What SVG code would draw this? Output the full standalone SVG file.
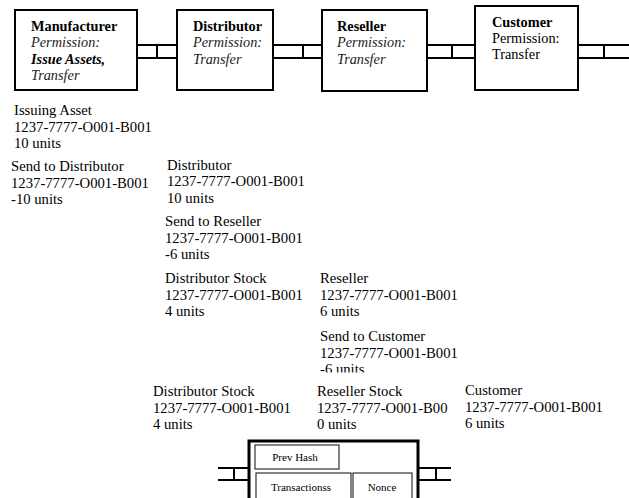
<svg xmlns="http://www.w3.org/2000/svg" width="629" height="498" viewBox="0 0 629 498" font-family="Liberation Serif, serif">
<style>
.box{fill:#fff;stroke:#000;stroke-width:2}
.blk{fill:#fff;stroke:#000;stroke-width:3}
.inner{fill:#fff;stroke:#333;stroke-width:1.2}
.link{stroke:#000;stroke-width:2;fill:none}
.bt{font-size:14.3px;fill:#000}
.b{font-weight:bold}
.i{font-style:italic;fill:#222}
.lt{font-size:14.7px;fill:#000}
.st{font-size:11px;fill:#000}
</style>
<defs>
<clipPath id="clipSend"><rect x="300" y="320" width="200" height="52.5"/></clipPath>
<clipPath id="clipRS"><rect x="300" y="380" width="148" height="60"/></clipPath>
</defs>
<rect width="629" height="498" fill="#fff"/>

<g id="connectors">
<path class="link" d="M137 45H177M137 58H177M157 45V58"/>
<path class="link" d="M273 45H322M273 58H322M303 45V58"/>
<path class="link" d="M427 45H475M427 58H475M452 45V58"/>
<path class="link" d="M578 45H629M578 58H629M604 45V58"/>
<path class="link" d="M218 468H249M218 480H249M234 468V480"/>
<path class="link" d="M418 468H451M418 480H451M436 468V480"/>
</g>

<g id="manufacturer">
<rect class="box" x="15" y="10" width="122" height="80"/>
<text class="bt b" x="31" y="30.5">Manufacturer</text>
<text class="bt i" x="31" y="47">Permission:</text>
<text class="bt b i" x="31" y="63.5" style="fill:#000">Issue Assets,</text>
<text class="bt i" x="31" y="80">Transfer</text>
</g>

<g id="distributor">
<rect class="box" x="177" y="10" width="96" height="80"/>
<text class="bt b" x="193" y="30.5">Distributor</text>
<text class="bt i" x="193" y="47">Permission:</text>
<text class="bt i" x="193" y="63.5">Transfer</text>
</g>

<g id="reseller">
<rect class="box" x="322" y="10" width="105" height="81"/>
<text class="bt b" x="337" y="30.5">Reseller</text>
<text class="bt i" x="337" y="47">Permission:</text>
<text class="bt i" x="337" y="63.5">Transfer</text>
</g>

<g id="customer">
<rect class="box" x="475" y="6" width="103" height="84"/>
<text class="bt b" x="492" y="27">Customer</text>
<text class="bt" x="492" y="43">Permission:</text>
<text class="bt" x="492" y="59">Transfer</text>
</g>

<g id="issuing-asset">
<text class="lt" x="14" y="115">Issuing Asset</text>
<text class="lt" x="14" y="131.5">1237-7777-O001-B001</text>
<text class="lt" x="14" y="148">10 units</text>
</g>

<g id="send-to-distributor">
<text class="lt" x="11" y="171">Send to Distributor</text>
<text class="lt" x="11" y="187.5">1237-7777-O001-B001</text>
<text class="lt" x="11" y="204">-10 units</text>
</g>

<g id="distributor-holding">
<text class="lt" x="167" y="169.5">Distributor</text>
<text class="lt" x="167" y="186">1237-7777-O001-B001</text>
<text class="lt" x="167" y="202.5">10 units</text>
</g>

<g id="send-to-reseller">
<text class="lt" x="165" y="226">Send to Reseller</text>
<text class="lt" x="165" y="242.5">1237-7777-O001-B001</text>
<text class="lt" x="165" y="259">-6 units</text>
</g>

<g id="distributor-stock-1">
<text class="lt" x="165" y="283">Distributor Stock</text>
<text class="lt" x="165" y="299.5">1237-7777-O001-B001</text>
<text class="lt" x="165" y="316">4 units</text>
</g>

<g id="reseller-holding">
<text class="lt" x="320" y="283">Reseller</text>
<text class="lt" x="320" y="299.5">1237-7777-O001-B001</text>
<text class="lt" x="320" y="316">6 units</text>
</g>

<g id="send-to-customer" clip-path="url(#clipSend)">
<text class="lt" x="320" y="341">Send to Customer</text>
<text class="lt" x="320" y="357.5">1237-7777-O001-B001</text>
<text class="lt" x="320" y="374">-6 units</text>
</g>

<g id="distributor-stock-2">
<text class="lt" x="153" y="396">Distributor Stock</text>
<text class="lt" x="153" y="412.5">1237-7777-O001-B001</text>
<text class="lt" x="153" y="429">4 units</text>
</g>

<g id="reseller-stock" clip-path="url(#clipRS)">
<text class="lt" x="317" y="396">Reseller Stock</text>
<text class="lt" x="317" y="412.5">1237-7777-O001-B001</text>
<text class="lt" x="317" y="429">0 units</text>
</g>

<g id="customer-holding">
<text class="lt" x="465" y="395">Customer</text>
<text class="lt" x="465" y="411.5">1237-7777-O001-B001</text>
<text class="lt" x="465" y="428">6 units</text>
</g>

<g id="block">
<rect class="blk" x="249" y="441" width="169" height="70"/>
<rect class="inner" x="255" y="445" width="84" height="24"/>
<text class="st" x="295" y="461" text-anchor="middle">Prev Hash</text>
<rect class="inner" x="256" y="473" width="95" height="40"/>
<rect class="inner" x="353" y="473" width="59" height="40"/>
<text class="st" x="301" y="491" text-anchor="middle">Transactionss</text>
<text class="st" x="382" y="491" text-anchor="middle">Nonce</text>
</g>
</svg>
